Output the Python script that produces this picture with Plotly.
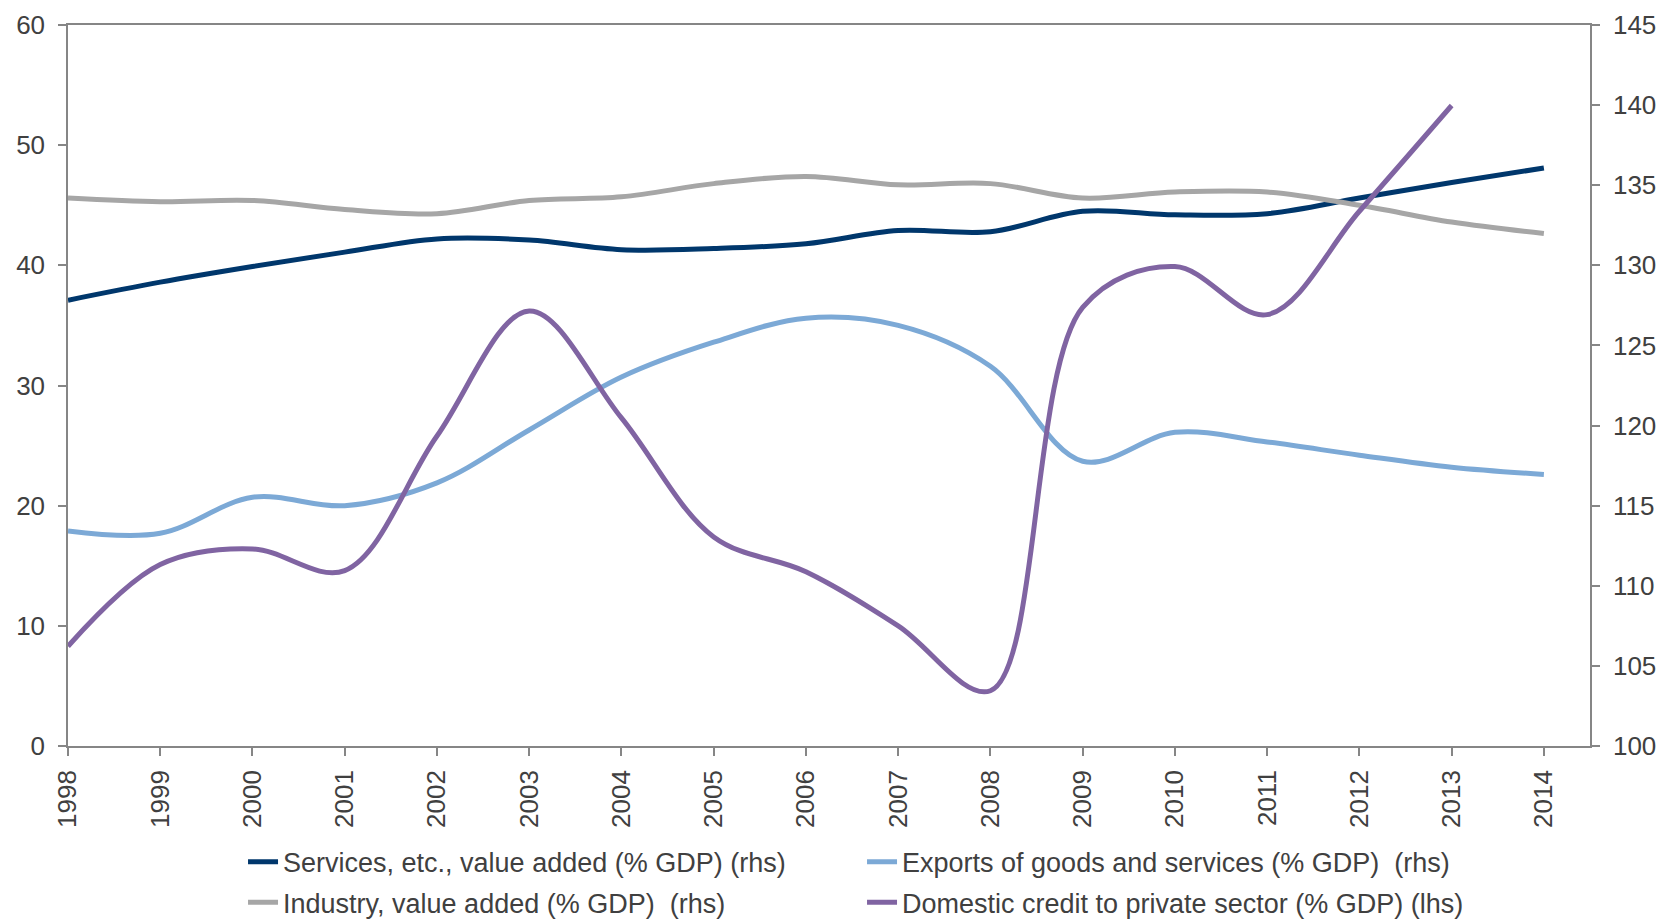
import plotly.graph_objects as go

# Annual series, 1998-2014 (% of GDP)
years = list(range(1998, 2015))

services = [37.1, 38.6, 39.9, 41.1, 42.2, 42.1, 41.3, 41.4, 41.8, 42.9, 42.8,
            44.5, 44.2, 44.3, 45.6, 46.9, 48.1]
exports = [17.9, 17.7, 20.7, 20.0, 21.9, 26.3, 30.7, 33.6, 35.6, 35.0, 31.6,
           23.7, 26.1, 25.3, 24.2, 23.2, 22.6]
industry = [45.6, 45.3, 45.4, 44.65, 44.3, 45.4, 45.7, 46.8, 47.4, 46.7, 46.8,
            45.6, 46.1, 46.1, 45.0, 43.6, 42.65]
credit_years = list(range(1998, 2014))
credit = [8.3, 15.1, 16.4, 14.6, 25.8, 36.2, 27.3, 17.4, 14.5, 10.0, 4.6,
          36.5, 39.9, 35.9, 44.5, 53.3]

names = ["Services, etc., value added (% GDP) (rhs)",
         "Exports of goods and services (% GDP)  (rhs)",
         "Industry, value added (% GDP)  (rhs)",
         "Domestic credit to private sector (% GDP) (lhs)"]
colors = ["#00376C", "#7CA9D6", "#A6A6A6", "#8064A2"]
# first two entries on the upper legend row, last two on the lower one
legend_rows = ["legend", "legend", "legend2", "legend2"]

left_ticks = list(range(0, 61, 10))
right_ticks = list(range(100, 146, 5))

AXIS = "#868686"
TEXT = "#404040"
TICK_FONT = dict(family="Liberation Sans, Arial, sans-serif", size=26, color=TEXT)
LEGEND_FONT = dict(family="Liberation Sans, Arial, sans-serif", size=27, color=TEXT)

fig = go.Figure()
series = [(years, services), (years, exports), (years, industry), (credit_years, credit)]
for (xs, ys), name, col, lg in zip(series, names, colors, legend_rows):
    fig.add_trace(go.Scatter(
        x=xs, y=ys, name=name, mode="lines", legend=lg,
        line=dict(color=col, width=5, shape="spline", smoothing=1.0),
    ))

# empty trace so the right-hand scale gets its own subplot and is drawn
fig.add_trace(go.Scatter(x=[], y=[], yaxis="y2", showlegend=False,
                         hoverinfo="skip", mode="lines"))

legend_common = dict(
    orientation="h", x=0.115, xanchor="left", yanchor="middle",
    entrywidth=574, entrywidthmode="pixels", font=LEGEND_FONT,
    bgcolor="rgba(0,0,0,0)",
)

fig.update_layout(
    width=1661, height=921,
    margin=dict(l=68, r=71, t=25, b=175, autoexpand=False),
    plot_bgcolor="white", paper_bgcolor="white",
    font=dict(family="Liberation Sans, Arial, sans-serif", color=TEXT),
    showlegend=True,
    legend=dict(y=-0.161, **legend_common),
    legend2=dict(y=-0.2175, **legend_common),
    xaxis=dict(
        range=[1998, 2014.5], tickvals=years, ticktext=[str(y) for y in years],
        tickangle=-90, ticks="outside", ticklen=8, tickcolor=AXIS, tickwidth=1.5,
        showline=True, linecolor=AXIS, linewidth=1.5, mirror=True,
        showgrid=False, zeroline=False, tickfont=TICK_FONT, ticklabelstandoff=4,
        automargin=False,
    ),
    yaxis=dict(
        range=[0, 60], tickvals=left_ticks, ticks="outside", ticklen=8,
        tickcolor=AXIS, tickwidth=1.5, showline=True, linecolor=AXIS, linewidth=1.5,
        showgrid=False, zeroline=False, tickfont=TICK_FONT, ticklabelstandoff=8,
        automargin=False,
    ),
    yaxis2=dict(
        range=[100, 145], tickvals=right_ticks, overlaying="y", side="right",
        anchor="x", ticks="outside", ticklen=8, tickcolor=AXIS, tickwidth=1.5,
        showline=True, linecolor=AXIS, linewidth=1.5,
        showgrid=False, zeroline=False, tickfont=TICK_FONT, ticklabelstandoff=8,
        automargin=False,
    ),
)

fig.write_html("out.html")
